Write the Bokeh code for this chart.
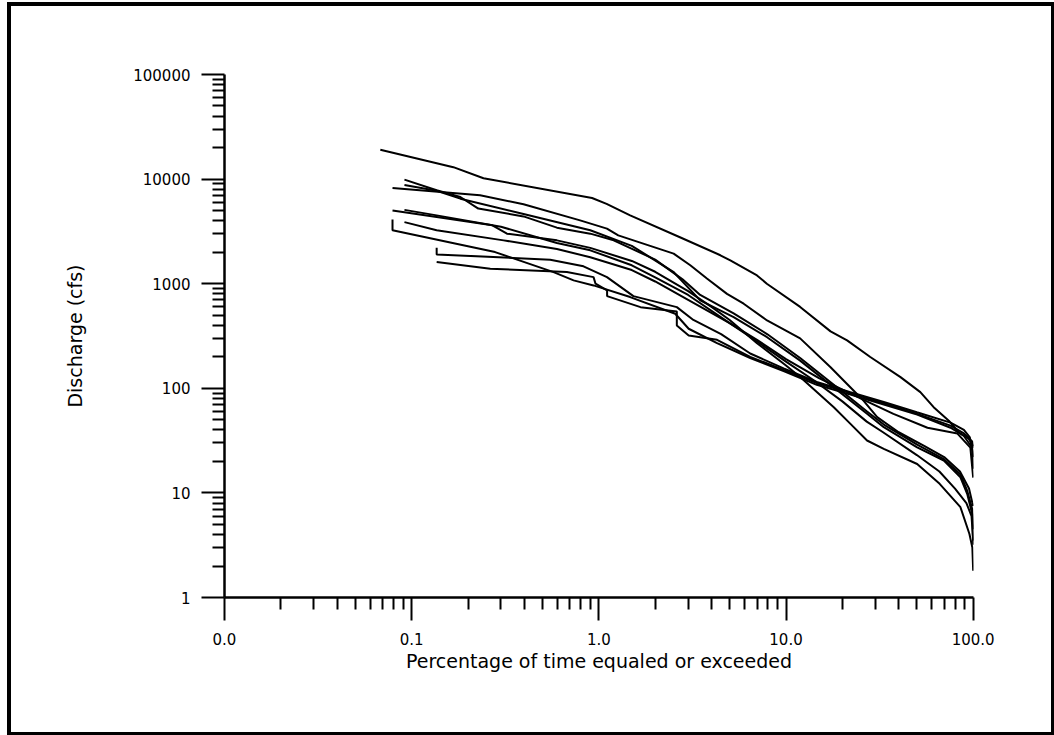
from bokeh.plotting import figure
from bokeh.models import FixedTicker, CustomJSTickFormatter
from bokeh.embed import file_html
from bokeh.resources import INLINE

# ---- axis ticks ----
x_major = [0.01, 0.1, 1, 10, 100]
x_minor = [m * d for d in [0.01, 0.1, 1, 10] for m in range(2, 10)]
y_major = [1, 10, 100, 1000, 10000, 100000]
y_minor = [m * d for d in [1, 10, 100, 1000, 10000] for m in range(2, 10)]

# ---- flow duration curves (percent exceeded, discharge cfs) ----
a_x = [0.068, 0.167, 0.242, 0.92, 1.10, 1.47, 2.75, 4.46, 5.04, 7.0, 7.9, 11.9, 17.3, 21.2, 28.2, 40.9, 52.2, 61.5, 74.1, 83.7, 94.6, 98.8, 100]
a_y = [19100, 13000, 10200, 6600, 5800, 4500, 2750, 1870, 1670, 1200, 1000, 600, 350, 287, 199, 128, 92, 66, 49, 38, 33, 29, 27]

b_x = [0.079, 0.232, 0.396, 0.794, 1.105, 1.27, 2.51, 3.08, 3.78, 4.84, 5.94, 7.92, 11.9, 17.3, 21.2, 26, 30.7, 40, 55, 70, 85, 95, 99, 100]
b_y = [8200, 7000, 5740, 4030, 3360, 2900, 1940, 1500, 1120, 800, 644, 445, 300, 159, 110, 76, 53, 38, 28, 22, 16, 11, 8, 7.5]

c_x = [0.0915, 0.136, 0.182, 0.227, 0.396, 0.597, 0.9, 1.2, 2.0, 2.8, 3.48, 5.25, 7.92, 11.9, 18, 27.1, 33.3, 50.2, 69.7, 85.5, 92.9, 98.8, 100]
c_y = [9890, 7820, 6740, 5230, 4400, 3433, 3010, 2600, 1700, 1100, 780, 520, 330, 195, 108, 60, 45, 29, 21, 15, 10.5, 7, 4.5]

d_x = [0.0915, 0.136, 0.182, 0.396, 0.9, 1.5, 2.5, 3.48, 5.25, 7.92, 11.9, 18, 27.1, 33.3, 50.2, 69.7, 85.5, 92.9, 98.8, 100]
d_y = [8770, 7750, 6500, 4630, 3240, 2300, 1300, 692, 479, 308, 184, 102, 57, 42.5, 27.3, 20.4, 14.1, 9.8, 6.3, 3.2]

e_x = [0.079, 0.136, 0.27, 0.323, 0.597, 0.9, 1.5, 2.0, 3.0, 4.0, 5.0, 7.0, 10, 11.9, 18, 22.1, 27.1, 33.3, 50.2, 66.2, 85.5, 95.5, 99, 100]
e_y = [5020, 4340, 3615, 3008, 2596, 2200, 1650, 1300, 850, 600, 450, 270, 165, 128, 66, 45.7, 31.7, 26.4, 18.9, 12.2, 7.3, 4.05, 3, 1.8]

f_x = [0.0915, 0.136, 0.3, 0.597, 0.9, 1.5, 2.0, 3.0, 5.0, 7.0, 10, 14, 20, 27, 33, 50, 66, 80, 92, 98, 100]
f_y = [5080, 4500, 3500, 2450, 2085, 1500, 1150, 780, 420, 280, 180, 120, 75, 48, 38, 23, 16, 11, 8, 6, 3.5]

g_x = [0.0915, 0.136, 0.31, 0.597, 0.9, 1.5, 2.0, 3.0, 5.0, 7.0, 10, 15, 25, 37.5, 57, 82.4, 96.6, 100]
g_y = [3880, 3250, 2596, 2150, 1790, 1350, 1050, 700, 420, 290, 190, 125, 80, 57, 42, 36.9, 27.1, 14]

h_x = [0.079, 0.079, 0.279, 0.573, 0.733, 0.937, 1.47, 2.56, 3.02, 4.28, 6.44, 9.71, 14.6, 22.1, 33.3, 50.2, 75.7, 89.2, 98.8, 100]
h_y = [4100, 3240, 2006, 1291, 1076, 963, 745, 516, 371, 270, 195, 146, 108, 87, 70, 56, 42, 35, 27, 22]

i_x = [0.136, 0.136, 0.55, 0.828, 1.105, 1.53, 2.61, 3.2, 4.5, 6.44, 9.71, 14.6, 22.1, 33.3, 50, 75.7, 89.2, 96, 99, 100]
i_y = [2210, 1905, 1698, 1465, 1156, 761, 597, 450, 330, 215, 155, 115, 92, 74, 59, 47, 40, 34, 25, 17]

j_x = [0.136, 0.263, 0.675, 0.937, 0.96, 1.107, 1.107, 1.67, 2.61, 2.61, 3.02, 4.28, 6.44, 9.71, 14.6, 22.1, 33.3, 50.2, 75.7, 89.2, 98.8, 100]
j_y = [1610, 1392, 1291, 1156, 1000, 863, 761, 597, 543, 399, 320, 291, 200, 150, 112, 90, 72, 57, 44, 37, 31, 28]

curves = [(a_x, a_y), (b_x, b_y), (c_x, c_y), (d_x, d_y), (e_x, e_y),
          (f_x, f_y), (g_x, g_y), (h_x, h_y), (i_x, i_y), (j_x, j_y)]

x_title = "Percentage of time equaled or exceeded"
y_title = "Discharge (cfs)"

p = figure(width=1040, height=726, x_axis_type="log", y_axis_type="log",
           x_range=(0.01, 100.4), y_range=(1, 100000),
           output_backend="svg", toolbar_location=None,
           min_border_left=213, min_border_right=78,
           min_border_top=68, min_border_bottom=135)
p.grid.visible = False
p.outline_line_color = None
p.background_fill_color = "white"
p.border_fill_color = "white"
p.styles = {"margin-left": "11px", "margin-top": "6px",
            "outline": "4px solid black", "outline-offset": "0px"}

for cx, cy in curves:
    p.line(cx, cy, line_color="black", line_width=2)

p.xaxis.ticker = FixedTicker(ticks=x_major, minor_ticks=x_minor)
p.yaxis.ticker = FixedTicker(ticks=y_major, minor_ticks=y_minor)
p.xaxis.formatter = CustomJSTickFormatter(code="return tick.toFixed(1);")
p.yaxis.formatter = CustomJSTickFormatter(code="return tick.toFixed(0);")

for ax in (p.xaxis[0], p.yaxis[0]):
    ax.axis_line_width = 2.5
    ax.axis_line_color = "black"
    ax.major_tick_line_width = 2
    ax.minor_tick_line_width = 2
    ax.major_tick_line_color = "black"
    ax.minor_tick_line_color = "black"
    ax.major_tick_out = 23
    ax.major_tick_in = 0
    ax.minor_tick_out = 12
    ax.minor_tick_in = 0
    ax.major_label_text_font = "DejaVu Sans"
    ax.major_label_text_font_size = "15px"
    ax.major_label_text_color = "black"
    ax.axis_label_text_font = "DejaVu Sans"
    ax.axis_label_text_font_size = "19px"
    ax.axis_label_text_font_style = "normal"
    ax.axis_label_text_color = "black"

p.xaxis.axis_label = x_title
p.yaxis.axis_label = y_title
p.xaxis.major_label_standoff = 12
p.xaxis.axis_label_standoff = 2
p.yaxis.major_label_standoff = 11
p.yaxis.axis_label_standoff = 44

open("out.html", "w").write(file_html(p, INLINE))
